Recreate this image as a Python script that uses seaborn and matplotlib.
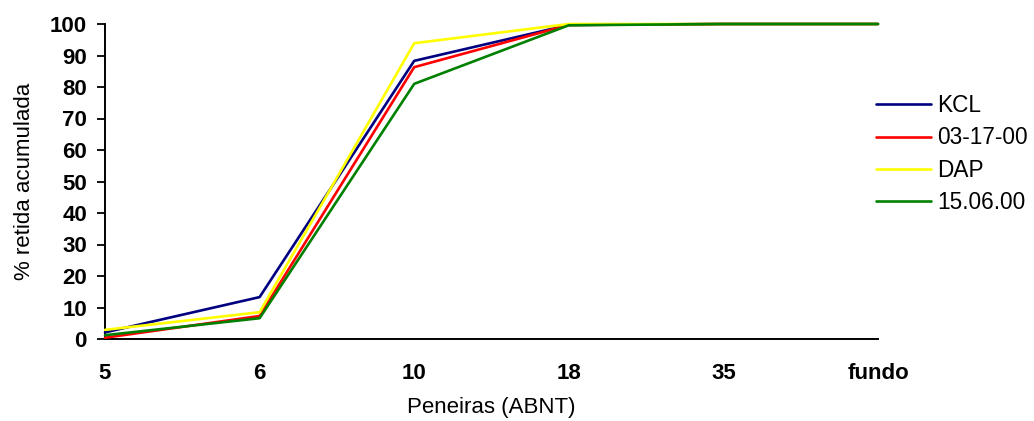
import matplotlib
matplotlib.use("Agg")
import matplotlib.pyplot as plt
import seaborn as sns
import pandas as pd

# Sieve fractions (ABNT) and cumulative retained percentage per sample
peneiras = ["5", "6", "10", "18", "35", "fundo"]
kcl = [2.1, 13.3, 88.3, 99.7, 100.0, 100.0]
amostra_031700 = [0.4, 7.3, 86.3, 99.7, 100.0, 100.0]
dap = [2.9, 8.5, 93.9, 100.0, 100.0, 100.0]
amostra_150600 = [1.2, 6.6, 81.0, 99.6, 100.0, 100.0]

series_names = ["KCL", "03-17-00", "DAP", "15.06.00"]
series_values = [kcl, amostra_031700, dap, amostra_150600]
series_colors = ["#000080", "#FF0000", "#FFFF00", "#008000"]

sns.set_theme(style="white")
plt.rcParams["font.family"] = ["Liberation Sans", "DejaVu Sans"]
plt.rcParams.update({
    "text.color": "black",
    "axes.labelcolor": "black",
    "xtick.color": "black",
    "ytick.color": "black",
})

fig = plt.figure(figsize=(10.34, 4.21), dpi=100)
ax = fig.add_axes([105 / 1034, 1 - 339 / 421, 773 / 1034, 315 / 421])

pos = list(range(len(peneiras)))
for name, vals, col in zip(series_names, series_values, series_colors):
    df = pd.DataFrame({"pos": pos, "valor": vals})
    sns.lineplot(data=df, x="pos", y="valor", color=col, label=name,
                 linewidth=1.9, ax=ax, legend=False, clip_on=False, zorder=3)

ax.set_xlim(0, len(peneiras) - 1)
ax.set_ylim(0, 100)

# axes styling: left and bottom spines only
for side in ["top", "right"]:
    ax.spines[side].set_visible(False)
for side in ["left", "bottom"]:
    ax.spines[side].set_color("black")
    ax.spines[side].set_linewidth(1.4)

ax.set_yticks(range(0, 101, 10))
ax.tick_params(axis="y", direction="out", length=6, width=1.3, color="black",
               labelcolor="black", pad=7, labelsize=16, left=True)
for lab in ax.get_yticklabels():
    lab.set_fontweight("bold")

ax.set_xticks(pos)
ax.set_xticklabels(peneiras, fontweight="bold")
ax.tick_params(axis="x", which="major", length=0, pad=17, labelsize=16,
               labelcolor="black")
ax.set_xticks([pos[0], pos[-1]], minor=True)
ax.tick_params(axis="x", which="minor", direction="out", length=7, width=1.3,
               color="black", bottom=True)

ax.set_xlabel("Peneiras (ABNT)", fontsize=16, labelpad=10, color="black")
ax.set_ylabel("% retida acumulada", fontsize=16, labelpad=11, color="black")

handles, labels = ax.get_legend_handles_labels()
leg = fig.legend(handles, labels, loc="center left",
                 bbox_to_anchor=(876 / 1034, 1 - 154 / 421),
                 bbox_transform=fig.transFigure, frameon=False, fontsize=16.3,
                 handlelength=2.45, handletextpad=0.25, labelspacing=0.4,
                 borderpad=0, borderaxespad=0)
for t in leg.get_texts():
    t.set_color("black")

fig.savefig("out.png", dpi=100, facecolor="white")
